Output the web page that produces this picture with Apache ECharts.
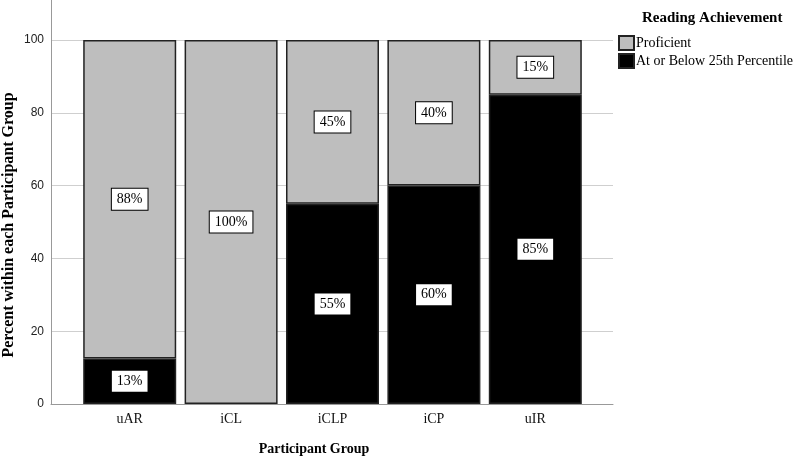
<!DOCTYPE html>
<html>
<head>
<meta charset="utf-8">
<script src="https://cdn.jsdelivr.net/npm/echarts@6/dist/echarts.min.js"></script>
<style>
html,body{margin:0;padding:0;background:#fff;}
#chart{width:800px;height:456px;}
</style>
</head>
<body>
<div id="chart"></div>
<script>
var categories = ['uAR', 'iCL', 'iCLP', 'iCP', 'uIR'];
var belowValues = [12.5, 0, 55, 60, 85];
var proficientValues = [87.5, 100, 45, 40, 15];
var yTicks = [0, 20, 40, 60, 80, 100];
var seriesNames = ['Proficient', 'At or Below 25th Percentile'];

var serif = '"Liberation Serif", "Times New Roman", serif';
var chart = echarts.init(document.getElementById('chart'));

function mkData(arr) {
  return arr.map(function (v) {
    if (v === 0) return { value: v, label: { show: false }, itemStyle: { borderWidth: 0 } };
    return v;
  });
}

var labelStyle = {
  show: true,
  position: 'inside',
  formatter: function (p) { return Math.round(p.value) + '%'; },
  fontFamily: serif,
  fontSize: 14,
  color: '#000',
  backgroundColor: '#fff',
  borderColor: '#000',
  borderWidth: 1,
  padding: [4, 5, 3, 5]
};

chart.setOption({
  animation: false,
  backgroundColor: '#fff',
  title: {
    text: 'Reading Achievement',
    left: 637, top: 6,
    textStyle: { fontFamily: serif, fontSize: 15, fontWeight: 'bold', color: '#000' }
  },
  legend: {
    data: seriesNames,
    orient: 'vertical',
    left: 613, top: 30,
    itemWidth: 15, itemHeight: 14, itemGap: 2,
    icon: 'rect',
    textStyle: { fontFamily: serif, fontSize: 14, color: '#000', padding: [0, 0, 0, -3] }
  },
  grid: [
    { left: 51, right: 187, top: 0, bottom: 52 },
    { left: 79, width: 507, top: 0, bottom: 52 }
  ],
  xAxis: [
    { type: 'value', gridIndex: 0, min: 0, max: 1,
      axisLine: { show: true, onZero: false, lineStyle: { color: '#999', width: 1 } },
      axisTick: { show: false }, axisLabel: { show: false }, splitLine: { show: false } },
    { type: 'category', gridIndex: 1, data: categories,
      axisLine: { show: false }, axisTick: { show: false },
      axisLabel: { fontFamily: serif, fontSize: 14, color: '#111', margin: 8 } }
  ],
  yAxis: [
    { type: 'value', gridIndex: 0, min: 0, max: 111, interval: 20,
      axisLine: { show: true, lineStyle: { color: '#999', width: 1 } },
      axisTick: { show: false },
      axisLabel: {
        showMaxLabel: false,
        fontFamily: 'Liberation Sans, Arial, sans-serif', fontSize: 12, color: '#222', margin: 7,
        formatter: function (v) { return yTicks.indexOf(v) >= 0 ? String(v) : ''; }
      },
      splitLine: { show: true, showMaxLine: false, lineStyle: { color: '#cfcfcf', width: 1 } } },
    { type: 'value', gridIndex: 1, min: 0, max: 111, show: false }
  ],
  graphic: [
    { type: 'text', x: 9, y: 225, rotation: Math.PI / 2,
      style: { text: 'Percent within each Participant Group', fontFamily: serif, fontSize: 16,
               fontWeight: 'bold', fill: '#000', align: 'center', verticalAlign: 'middle' } },
    { type: 'text', x: 314, y: 449,
      style: { text: 'Participant Group', fontFamily: serif, fontSize: 14,
               fontWeight: 'bold', fill: '#000', align: 'center', verticalAlign: 'middle' } }
  ],
  series: [
    { name: seriesNames[1], type: 'bar', stack: 'total', xAxisIndex: 1, yAxisIndex: 1,
      barWidth: 93, data: mkData(belowValues),
      itemStyle: { color: '#000', borderColor: '#222', borderWidth: 1.5 },
      label: labelStyle },
    { name: seriesNames[0], type: 'bar', stack: 'total', xAxisIndex: 1, yAxisIndex: 1,
      barWidth: 93, data: mkData(proficientValues),
      itemStyle: { color: '#bebebe', borderColor: '#222', borderWidth: 1.5 },
      label: labelStyle }
  ]
});
</script>
</body>
</html>
